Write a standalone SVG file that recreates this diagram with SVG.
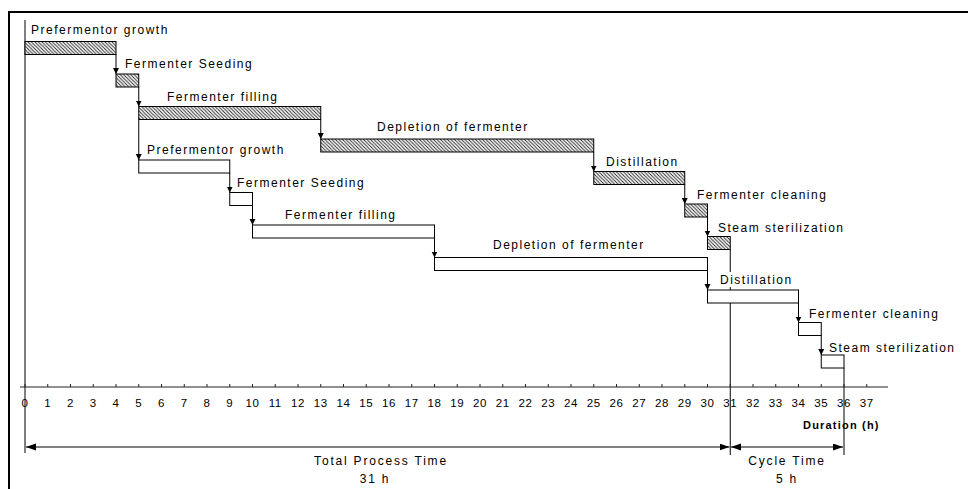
<svg xmlns="http://www.w3.org/2000/svg" width="968" height="489" viewBox="0 0 968 489">
<defs>
<pattern id="hatch" patternUnits="userSpaceOnUse" width="3.5" height="3.5">
<rect width="3.5" height="3.5" fill="#fff"/>
<path d="M0,0 L3.5,3.5 M-1,2.5 L1,4.5 M2.5,-1 L4.5,1" stroke="#222" stroke-width="0.9"/>
</pattern>
<marker id="ah" markerUnits="userSpaceOnUse" markerWidth="7" markerHeight="7" refX="6" refY="3" orient="auto">
<path d="M0,0 L6,3 L0,6 z" fill="#000"/>
</marker>
<marker id="dim" markerUnits="userSpaceOnUse" markerWidth="11" markerHeight="8" refX="10" refY="3.5" orient="auto-start-reverse">
<path d="M0,0 L10,3.5 L0,7 z" fill="#000"/>
</marker>
</defs>
<style>
text{font-family:"Liberation Sans",Arial,sans-serif;fill:#000}
.lb{font-size:12px;letter-spacing:1.5px}
.tk{font-size:11.5px;letter-spacing:0.6px;text-anchor:middle}
.bt{font-size:12px;letter-spacing:1.8px;text-anchor:middle}
.hb{fill:url(#hatch);stroke:#000;stroke-width:1}
.wb{fill:#fff;stroke:#000;stroke-width:1}
.ln{stroke:#000;stroke-width:1;fill:none}
.ar{stroke:#000;stroke-width:1;fill:none;marker-end:url(#ah)}
</style>
<rect width="968" height="489" fill="#fff"/>
<g id="frame">
<line x1="8" y1="12" x2="968" y2="12" stroke="#000" stroke-width="2"/>
<line x1="9" y1="11" x2="9" y2="489" stroke="#000" stroke-width="2"/>
</g>
<g id="connectors">
<line class="ln" x1="25" y1="20" x2="25" y2="453"/>
<line class="ln" x1="730.25" y1="249.5" x2="730.25" y2="272"/>
<line class="ln" x1="730.25" y1="287" x2="730.25" y2="455"/>
<line class="ln" x1="844" y1="368" x2="844" y2="455"/>
<line class="ar" x1="116" y1="54.5" x2="116" y2="74"/>
<line class="ar" x1="138.75" y1="87" x2="138.75" y2="106.5"/>
<line class="ar" x1="320.75" y1="119.5" x2="320.75" y2="139"/>
<line class="ar" x1="593.75" y1="152" x2="593.75" y2="171.5"/>
<line class="ar" x1="684.75" y1="184.5" x2="684.75" y2="204"/>
<line class="ar" x1="707.5" y1="217" x2="707.5" y2="236.5"/>
<line class="ar" x1="138.75" y1="119.5" x2="138.75" y2="160"/>
<line class="ar" x1="229.75" y1="173" x2="229.75" y2="192.5"/>
<line class="ar" x1="252.5" y1="205.5" x2="252.5" y2="225"/>
<line class="ar" x1="434.5" y1="238" x2="434.5" y2="257.5"/>
<line class="ar" x1="707.5" y1="270.5" x2="707.5" y2="290"/>
<line class="ar" x1="798.5" y1="303" x2="798.5" y2="322.5"/>
<line class="ar" x1="821.25" y1="335.5" x2="821.25" y2="355"/>
</g>
<g id="row1">
<g id="r1-prefermentor"><rect class="hb" x="25" y="41.5" width="91" height="13"/><text class="lb" x="31" y="34">Prefermentor growth</text></g>
<g id="r1-seeding"><rect class="hb" x="116" y="74" width="22.75" height="13"/><text class="lb" x="125" y="68">Fermenter Seeding</text></g>
<g id="r1-filling"><rect class="hb" x="138.75" y="106.5" width="182" height="13"/><text class="lb" x="167" y="100.5">Fermenter filling</text></g>
<g id="r1-depletion"><rect class="hb" x="320.75" y="139" width="273" height="13"/><text class="lb" x="377" y="130.5">Depletion of fermenter</text></g>
<g id="r1-distillation"><rect class="hb" x="593.75" y="171.5" width="91" height="13"/><text class="lb" x="606" y="166">Distillation</text></g>
<g id="r1-cleaning"><rect class="hb" x="684.75" y="204" width="22.75" height="13"/><text class="lb" x="697" y="199">Fermenter cleaning</text></g>
<g id="r1-steam"><rect class="hb" x="707.5" y="236.5" width="22.75" height="13"/><text class="lb" x="718" y="231.5">Steam sterilization</text></g>
</g>
<g id="row2">
<g id="r2-prefermentor"><rect class="wb" x="138.75" y="160" width="91" height="13"/><text class="lb" x="147" y="154">Prefermentor growth</text></g>
<g id="r2-seeding"><rect class="wb" x="229.75" y="192.5" width="22.75" height="13"/><text class="lb" x="237" y="187">Fermenter Seeding</text></g>
<g id="r2-filling"><rect class="wb" x="252.5" y="225" width="182" height="13"/><text class="lb" x="285" y="219">Fermenter filling</text></g>
<g id="r2-depletion"><rect class="wb" x="434.5" y="257.5" width="273" height="13"/><text class="lb" x="493" y="249">Depletion of fermenter</text></g>
<g id="r2-distillation"><rect class="wb" x="707.5" y="290" width="91" height="13"/><text class="lb" x="720" y="284">Distillation</text></g>
<g id="r2-cleaning"><rect class="wb" x="798.5" y="322.5" width="22.75" height="13"/><text class="lb" x="809" y="318">Fermenter cleaning</text></g>
<g id="r2-steam"><rect class="wb" x="821.25" y="355" width="22.75" height="13"/><text class="lb" x="829" y="351.5">Steam sterilization</text></g>
</g>
<g id="axis">
<line x1="20" y1="387" x2="888" y2="387" stroke="#222" stroke-width="1"/>
<path stroke="#222" stroke-width="1" d="M25,384V387M47.75,384V387M70.5,384V387M93.25,384V387M116,384V387M138.75,384V387M161.5,384V387M184.25,384V387M207,384V387M229.75,384V387M252.5,384V387M275.25,384V387M298,384V387M320.75,384V387M343.5,384V387M366.25,384V387M389,384V387M411.75,384V387M434.5,384V387M457.25,384V387M480,384V387M502.75,384V387M525.5,384V387M548.25,384V387M571,384V387M593.75,384V387M616.5,384V387M639.25,384V387M662,384V387M684.75,384V387M707.5,384V387M730.25,384V387M753,384V387M775.75,384V387M798.5,384V387M821.25,384V387M844,384V387M866.75,384V387"/>
<text class="tk" x="25" y="407">0</text>
<text class="tk" x="47.75" y="407">1</text>
<text class="tk" x="70.5" y="407">2</text>
<text class="tk" x="93.25" y="407">3</text>
<text class="tk" x="116" y="407">4</text>
<text class="tk" x="138.75" y="407">5</text>
<text class="tk" x="161.5" y="407">6</text>
<text class="tk" x="184.25" y="407">7</text>
<text class="tk" x="207" y="407">8</text>
<text class="tk" x="229.75" y="407">9</text>
<text class="tk" x="252.5" y="407">10</text>
<text class="tk" x="275.25" y="407">11</text>
<text class="tk" x="298" y="407">12</text>
<text class="tk" x="320.75" y="407">13</text>
<text class="tk" x="343.5" y="407">14</text>
<text class="tk" x="366.25" y="407">15</text>
<text class="tk" x="389" y="407">16</text>
<text class="tk" x="411.75" y="407">17</text>
<text class="tk" x="434.5" y="407">18</text>
<text class="tk" x="457.25" y="407">19</text>
<text class="tk" x="480" y="407">20</text>
<text class="tk" x="502.75" y="407">21</text>
<text class="tk" x="525.5" y="407">22</text>
<text class="tk" x="548.25" y="407">23</text>
<text class="tk" x="571" y="407">24</text>
<text class="tk" x="593.75" y="407">25</text>
<text class="tk" x="616.5" y="407">26</text>
<text class="tk" x="639.25" y="407">27</text>
<text class="tk" x="662" y="407">28</text>
<text class="tk" x="684.75" y="407">29</text>
<text class="tk" x="707.5" y="407">30</text>
<text class="tk" x="730.25" y="407">31</text>
<text class="tk" x="753" y="407">32</text>
<text class="tk" x="775.75" y="407">33</text>
<text class="tk" x="798.5" y="407">34</text>
<text class="tk" x="821.25" y="407">35</text>
<text class="tk" x="844" y="407">36</text>
<text class="tk" x="866.75" y="407">37</text>
<text x="803" y="429" style="font-size:11px;font-weight:bold;letter-spacing:1.2px">Duration (h)</text>
</g>
<g id="dimensions">
<line x1="26" y1="447" x2="729.5" y2="447" stroke="#000" stroke-width="1" marker-start="url(#dim)" marker-end="url(#dim)"/>
<line x1="731" y1="447" x2="843" y2="447" stroke="#000" stroke-width="1" marker-start="url(#dim)" marker-end="url(#dim)"/>
<text class="bt" x="381" y="465">Total Process Time</text>
<text class="bt" x="375" y="483">31 h</text>
<text class="bt" x="787" y="465">Cycle Time</text>
<text class="bt" x="787" y="483">5 h</text>
</g>
</svg>
